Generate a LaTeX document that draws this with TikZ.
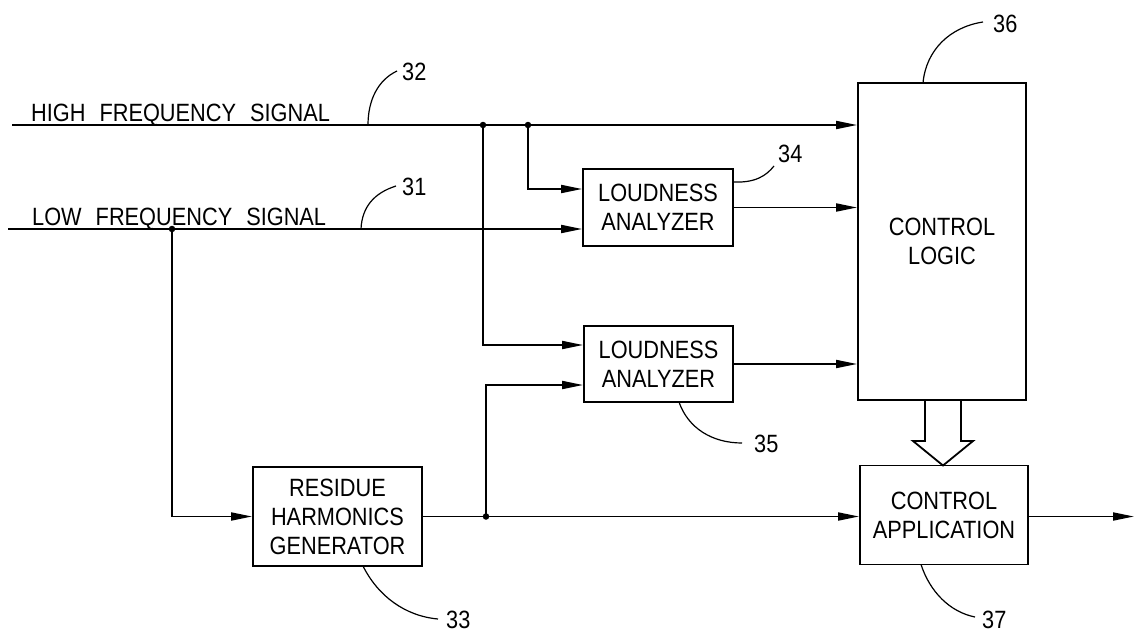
\documentclass[tikz,border=0pt]{standalone}
\usepackage{fontspec}
\setmainfont[FakeStretch=0.87]{Liberation Sans}
\usetikzlibrary{arrows.meta,calc}
\begin{document}
\begin{tikzpicture}[x=1pt,y=-1pt,
  wire/.style={line width=1.8pt},
  arr/.style={wire,-{Triangle[length=21pt,width=8pt]}},
  blk/.style={draw,line width=1.8pt,align=center,inner sep=0pt,font=\fontsize{25}{29}\selectfont},
  lead/.style={line width=1.2pt},
  num/.style={font=\fontsize{25}{29}\selectfont,inner sep=0pt},
  jdot/.style={circle,fill,inner sep=0pt,minimum size=6.5pt}]
\useasboundingbox (0,0) rectangle (1134,632);

% blocks
\node[blk,minimum width=150pt,minimum height=77pt] (la1) at (658,207.5) {LOUDNESS\\ANALYZER};
\node[blk,minimum width=149pt,minimum height=76pt] (la2) at (658.5,364) {LOUDNESS\\ANALYZER};
\node[blk,minimum width=168pt,minimum height=317pt] (cl) at (942,241.5) {CONTROL\\LOGIC};
\node[blk,minimum width=169pt,minimum height=99pt] (rhg) at (337.5,516.5) {RESIDUE\\HARMONICS\\GENERATOR};
\node[blk,minimum width=168pt,minimum height=99pt] (ca) at (944,515) {CONTROL\\APPLICATION};

% signal labels
\node[num,anchor=base west] (hl) at (31,121) {HIGH\hspace{14pt}FREQUENCY\hspace{14pt}SIGNAL};
\node[num,anchor=base west] (ll) at (32,225) {LOW\hspace{14pt}FREQUENCY\hspace{14pt}SIGNAL};

% junctions and free ends
\coordinate (hin) at (12,125);
\coordinate (lin) at (8,229);
\coordinate (out) at (1134,516.5);
\node[jdot] (j1) at (483,125) {};
\node[jdot] (j2) at (528,125) {};
\node[jdot] (j3) at (172,229) {};
\node[jdot] (j4) at (486,516.5) {};

% connectors
\draw[arr] (hin) -- (hin -| cl.west);
\draw[arr] (j2.center) |- ($(la1.west)+(0,-18.5)$);
\draw[arr] (lin) -- (lin -| la1.west);
\draw[arr] (j3.center) |- (rhg.west);
\draw[wire] (rhg.east) -- (j4.center);
\draw[arr] (j4.center) -- (j4 -| ca.west);
\draw[arr] (j4.center) |- ($(la2.west)+(0,21)$);
\draw[arr] (j1.center) |- ($(la2.west)+(0,-19)$);
\draw[arr] (la1.east) -- (la1.east -| cl.west);
\draw[arr] (la2.east) -- (la2.east -| cl.west);
\draw[arr] (ca.east |- out) -- (out);

% hollow control arrow
\draw[wire,line join=miter] (925,400) -- (925,441) -- (913,441) -- (943,465.5) -- (973,441) -- (961,441) -- (961,400);

% reference numerals
\node[num,anchor=base west] (n32) at (402,80) {32};
\node[num,anchor=base west] (n31) at (402,195) {31};
\node[num,anchor=base west] (n34) at (778,162) {34};
\node[num,anchor=base west] (n36) at (993,32) {36};
\node[num,anchor=base west] (n35) at (754,452) {35};
\node[num,anchor=base west] (n33) at (446,628) {33};
\node[num,anchor=base west] (n37) at (982,628) {37};

% leaders
\draw[lead] (368,125) .. controls (368,100) and (378,80) .. (397,71);
\draw[lead] (361,229) .. controls (362,207) and (374,193) .. (396,186);
\draw[lead] (733,182) .. controls (755,183) and (766,176) .. (774,166);
\draw[lead] (923,83) .. controls (926,50) and (950,27) .. (983,22);
\draw[lead] (679,402) .. controls (688,428) and (712,443) .. (742,443);
\draw[lead] (363,566) .. controls (378,596) and (405,616) .. (438,619);
\draw[lead] (921,564.5) .. controls (930,592) and (950,612) .. (975,617);
\end{tikzpicture}
\end{document}
